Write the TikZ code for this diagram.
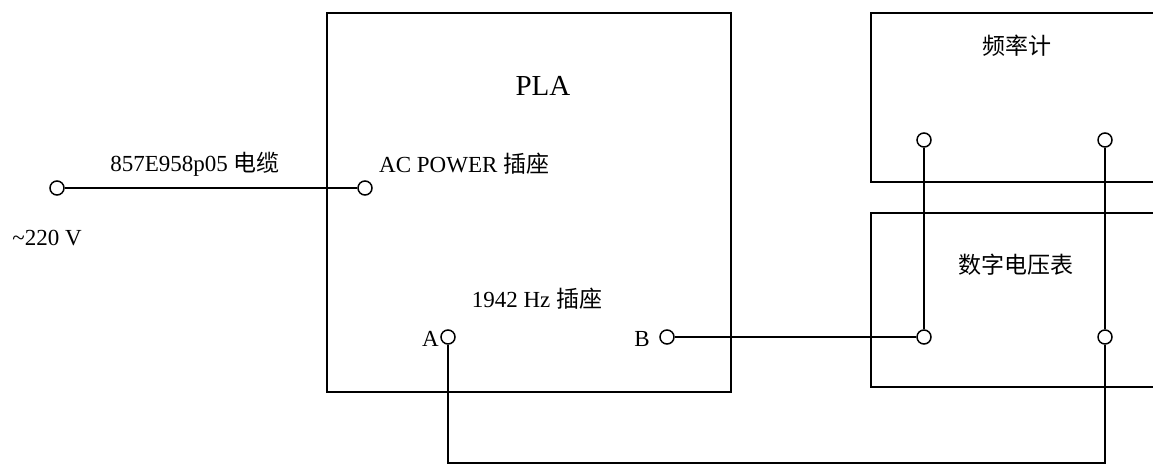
\documentclass[tikz,border=0pt]{standalone}
\usepackage{fontspec}
\setmainfont{Liberation Serif}
\newfontfamily\cjk{Noto Sans CJK SC}
\begin{document}
\begin{tikzpicture}[x=1pt,y=-1pt,
  wire/.style={line width=1.9pt},
  box/.style={line width=1.9pt},
  term/.style={circle,draw,line width=1.5pt,fill=white,minimum size=14pt,inner sep=0pt},
  lbl/.style={inner sep=0pt,font=\fontsize{23}{26}\selectfont},
  big/.style={inner sep=0pt,font=\fontsize{29}{33}\selectfont}]
\useasboundingbox (0,0) rectangle (1153,466);
% boxes
\draw[box] (327,13) rectangle (731,392);
\draw[box] (1153,13) -- (871,13) -- (871,182) -- (1153,182);
\draw[box] (1153,213) -- (871,213) -- (871,387) -- (1153,387);
% terminals
\node[term] (in) at (57,188) {};
\node[term] (ac) at (365,188) {};
\node[term] (A) at (448,337) {};
\node[term] (B) at (667,337) {};
\node[term] (f1) at (924,140) {};
\node[term] (f2) at (1105,140) {};
\node[term] (v1) at (924,337) {};
\node[term] (v2) at (1105,337) {};
\coordinate (c1) at (448,463);
\coordinate (c2) at (1105,463);
% wires
\draw[wire] (in) -- (ac);
\draw[wire] (B) -- (v1);
\draw[wire] (f1) -- (v1);
\draw[wire] (f2) -- (v2);
\draw[wire] (A) -- (c1) -- (c2) -- (v2);
% texts
\node[lbl] (cable) at (195,164) {857E958p05 {\cjk 电缆}};
\node[lbl] (volt) at (47,238) {\textasciitilde220 V};
\node[lbl,anchor=west] (acp) at (379,164) {AC POWER {\cjk 插座}};
\node[big] (pla) at (543,86) {PLA};
\node[lbl] (hz) at (537,299) {1942 Hz {\cjk 插座}};
\node[lbl,anchor=east] (al) at (439,339) {A};
\node[lbl,anchor=east] (bl) at (650,339) {B};
\node[lbl] (freq) at (1017,46) {\cjk 频率计};
\node[lbl] (dvm) at (1016,265) {\cjk 数字电压表};
\end{tikzpicture}
\end{document}
